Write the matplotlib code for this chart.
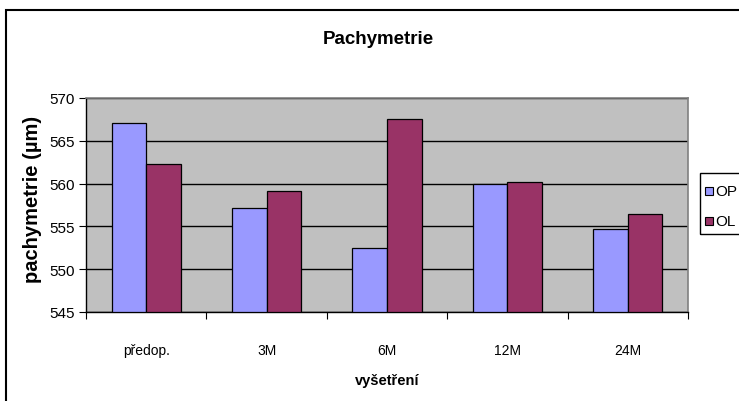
import matplotlib
matplotlib.use("Agg")
import matplotlib.pyplot as plt
import matplotlib.patches as mpatches
import numpy as np

plt.rcParams['font.family'] = ['Liberation Sans', 'DejaVu Sans']

categories = ["předop.", "3M", "6M", "12M", "24M"]
op_values = [567.1, 557.2, 552.5, 560.0, 554.7]
ol_values = [562.3, 559.1, 567.5, 560.2, 556.5]
series_names = ["OP", "OL"]
series_colors = ['#9999FF', '#993366']
y_ticks = [545, 550, 555, 560, 565, 570]

W, H = 739, 402
fig = plt.figure(figsize=(W / 100, H / 100), dpi=100)


def fx(px):
    return px / W


def fy(py):
    return 1 - py / H


# outer chart frame (runs off the right and bottom edges)
fig.patches.append(mpatches.Rectangle((fx(6), -0.1), 1.2, 1.1 - 11 / H,
                                      transform=fig.transFigure, fill=False,
                                      edgecolor='black', linewidth=1.5))

ax = fig.add_axes([fx(86), fy(313), (688 - 86) / W, (313 - 99) / H])
ax.set_facecolor('#C0C0C0')

x = np.arange(len(categories))
bw = 0.287
for vals, off, name, col in zip([op_values, ol_values], [-bw / 2, bw / 2],
                                series_names, series_colors):
    ax.bar(x + off, np.array(vals) - 545, bw, bottom=545, color=col,
           edgecolor='black', linewidth=0.9, label=name, zorder=3)

ax.set_xlim(-0.5, len(categories) - 0.5)
ax.set_ylim(545, 570)
ax.set_yticks(y_ticks)
ax.yaxis.grid(True, color='black', linewidth=1.0, zorder=1)
ax.set_axisbelow(True)

ax.set_xticks(np.arange(len(categories) + 1) - 0.5)
ax.set_xticklabels([])
ax.set_xticks(x, minor=True)
ax.set_xticklabels(categories, minor=True)
ax.tick_params(axis='x', which='minor', length=0, pad=22, labelsize=10)
ax.tick_params(axis='x', which='major', length=5, direction='out', color='black')
ax.tick_params(axis='y', length=5, direction='out', labelsize=11, pad=3)

for side in ['top', 'right']:
    ax.spines[side].set_color('#808080')
    ax.spines[side].set_linewidth(1.2)
for side in ['left', 'bottom']:
    ax.spines[side].set_color('black')
    ax.spines[side].set_linewidth(1.0)

ax.set_xlabel("vyšetření", fontsize=10.5, fontweight='bold', labelpad=12)
ax.set_ylabel("pachymetrie (µm)", fontsize=14.5, fontweight='bold')
ax.yaxis.set_label_coords((42 - 86) / 602, (313 - 199.5) / 214)
fig.text(fx(378), fy(40), "Pachymetrie", ha='center', va='center',
         fontsize=13.5, fontweight='bold')

# legend box at the right edge of the chart
fig.patches.append(mpatches.Rectangle((fx(700), fy(235)), 0.2, (235 - 174) / H,
                                      transform=fig.transFigure, fill=False,
                                      edgecolor='black', linewidth=1.0))
for name, col, yc in zip(series_names, series_colors, [192, 222]):
    fig.patches.append(mpatches.Rectangle((fx(705), fy(yc + 4)), 8 / W, 8 / H,
                                          transform=fig.transFigure,
                                          facecolor=col, edgecolor='black',
                                          linewidth=0.8))
    fig.text(fx(715), fy(yc), name, ha='left', va='center', fontsize=11)

fig.savefig("out.png", dpi=100)
